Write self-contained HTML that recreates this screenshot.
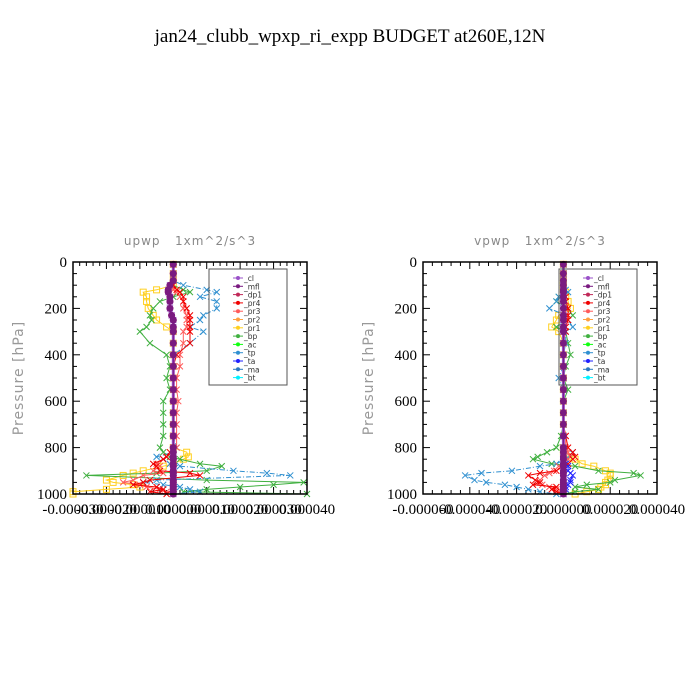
<!DOCTYPE html>
<html><head><meta charset="utf-8"><style>
body{margin:0;background:#fff;width:700px;height:700px;overflow:hidden}
svg{display:block}
</style></head><body>
<svg id="s" width="700" height="700" xmlns="http://www.w3.org/2000/svg">
<text x="350" y="42" text-anchor="middle" font-family="Liberation Serif, serif" font-size="19" fill="#000">jan24_clubb_wpxp_ri_expp  BUDGET at260E,12N</text>
</svg>
<script>
// ---- data (values in units of 1e-5) ----
const legendNames = ["_cl","_mfl","_dp1","_pr4","_pr3","_pr2","_pr1","_bp","_ac","_tp","_ta","_ma","_bt"];
const yTicks = [0,200,400,600,800,1000];
const x1Ticks = [-3,-2,-1,0,1,2,3,4];
const x1Labels = ["-0.000030","-0.000020","-0.000010","0.000000","0.000010","0.000020","0.000030","0.000040"];
const x2Ticks = [-6,-4,-2,0,2,4];
const x2Labels = ["-0.000060","-0.000040","-0.000020","0.000000","0.000020","0.000040"];
const levels = [10,50,80,100,120,130,150,170,200,230,250,280,300,350,400,450,500,550,600,650,700,750,800,820,840,850,870,880,900,910,920,940,950,960,970,980,990,1000];
// plot 1 (upwp)
const u_pr1 = [0,0,0,0,-0.5,-0.9,-0.8,-0.8,-0.75,-0.6,-0.5,-0.2,0,0,0,0,0,0,0,0,0,0,0,0.4,0.45,0.3,0,-0.3,-0.9,-1.2,-1.5,-2.0,-1.8,-1.2,-1.0,-2.0,-3.0,-3.0];
const u_bp  = [0,0,0,0,0.3,0.5,0,-0.4,-0.6,-0.7,-0.65,-0.8,-1.0,-0.7,-0.2,-0.1,-0.2,-0.1,-0.3,-0.3,-0.3,-0.3,-0.4,-0.3,-0.1,0.2,0.8,1.45,1.0,-0.5,-2.6,1.0,3.9,3.0,2.0,1.0,0.3,4.0];
const u_tp  = [0,0,0,0.3,1.0,1.3,0.8,1.3,1.3,0.9,0.8,0.5,0.9,0.5,0,0,0,0,0,0,0,0,0.1,0,-0.5,-0.3,-0.1,0.2,1.8,2.8,3.5,-0.5,-0.9,-0.3,0.2,0.5,0.8,0];
const u_pr4 = [0,0,0,0,0.1,0.2,0.3,0.3,0.4,0.5,0.5,0.5,0.5,0.5,0.1,0,0,0,0,0,0,0,0,-0.1,-0.2,-0.3,-0.6,-0.5,-0.4,0.5,0.8,-0.7,-0.9,-1.2,-0.5,-0.3,-0.7,-0.2];
const u_pr3 = [0,0,0,0,0,0.1,0.2,0.3,0.3,0.4,0.4,0.4,0.3,0.3,0.2,0.2,0.1,0.1,0.15,0.1,0.1,0.1,0.1,0,-0.2,-0.3,-0.5,-0.4,-0.6,-0.3,-0.9,-1.2,-1.5,-1.0,-0.8,-0.4,-0.2,0];
const u_mid = [0,0,0,-0.1,-0.15,-0.15,-0.1,-0.1,-0.1,-0.05,0,0,0,0,0,0,0,0,0,0,0,0,0,0,0,0,0,0,0,0,0,0,0,0,0,0,0,0];
// plot 2 (vpwp)
const v_pr1 = [0,0,0,0,0,0.1,0.1,0.2,0.3,-0.2,-0.3,-0.5,-0.2,0,0,0,0,0,0,0,0,0,0,0,0.2,0.5,0.8,1.3,1.8,2.0,2.0,1.9,1.8,1.8,1.6,1.5,1.0,0.5];
const v_bp  = [0,0,0,0,0,0,-0.2,-0.3,0.2,0.4,0.2,-0.3,0.1,0.2,0.3,0.1,0,0.2,0,0,0,-0.1,-0.3,-0.7,-1.1,-1.3,-0.5,0.5,1.5,3.0,3.3,2.2,2.0,1.0,0.5,1.5,0.5,0];
const v_tp  = [0,0,0,0,0.1,0.2,-0.2,-0.3,-0.6,0.1,0.2,0.4,0.1,0.1,0,0,-0.2,0,0,0,0,0,0,0.4,0.3,0.1,-0.3,-1.0,-2.2,-3.5,-4.2,-3.8,-3.3,-2.5,-2.0,-1.5,-1.0,-0.3];
const v_pr4 = [0,0,0,0,0,0,0.1,0.1,0.2,0.2,0.2,0.1,0.1,0,0,0,0,0,0,0,0,0.1,0.2,0.4,0.5,0.4,0.2,0,-0.3,-1.0,-1.5,-1.2,-1.0,-1.3,-0.3,-0.5,-0.3,0];
const v_pr3 = [0,0,0,0,0,0,0,0,0.1,0.1,0.1,0.1,0,0,0,0,0,0,0,0,0,0.1,0.1,0.2,0.3,0.2,0,-0.2,-0.4,-0.6,-0.8,-1.0,-1.1,-0.9,-0.6,-0.3,-0.2,0];
const v_mid = [0,0,0,0,0,0,0,0,0,0,0,0,0,0,0,0,0,0,0,0,0,0,0,0,0,0,0.1,0.2,0.2,0.3,0.4,0.3,0.3,0.2,0.1,0.1,0,0];
const zeroLine = [0,0,0,0,0,0,0,0,0,0,0,0,0,0,0,0,0,0,0,0,0,0,0,0,0,0,0,0,0,0,0,0,0,0,0,0,0,0];

const colors = {"_cl":"#9a50c8","_mfl":"#7a1a80","_dp1":"#c02858","_pr4":"#f00000","_pr3":"#ff5a5a","_pr2":"#ffa040","_pr1":"#ffd020","_bp":"#40b040","_ac":"#10ff10","_tp":"#3090d0","_ta":"#2020ff","_ma":"#2a78c0","_bt":"#00f0ff"};
const NS="http://www.w3.org/2000/svg";
const svg=document.getElementById('s');
function mk(tag,attrs,parent){const e=document.createElementNS(NS,tag);for(const k in attrs)e.setAttribute(k,attrs[k]);(parent||svg).appendChild(e);return e;}

function drawPanel(p){
  const g=mk('g',{});
  
  
  const L=p.left,R=p.left+234,T=262,B=494;
  const xs=v=>L+(v-p.xmin)/(p.xmax-p.xmin)*(R-L);
  const ys=v=>T+v/1000*(B-T);
  const t=mk('text',{x:(L+R)/2,y:245,'text-anchor':'middle','font-family':'DejaVu Sans, sans-serif','font-size':12,fill:'#888','letter-spacing':'1','xml:space':'preserve',style:'white-space:pre'},g);
  t.textContent=p.title;
  
  
  const yl=mk('text',{x:0,y:0,'text-anchor':'middle','font-family':'DejaVu Sans, sans-serif','font-size':14,fill:'#999','letter-spacing':'1',transform:`translate(${L-50},378) rotate(-90)`},g);
  yl.textContent='Pressure [hPa]';
  
  
  for(let v=0;v<=1000;v+=50){
    const major=v%200===0, len=major?7:4;
    mk('line',{x1:L,x2:L+len,y1:ys(v),y2:ys(v),stroke:'#000','stroke-width':1},g);
    mk('line',{x1:R,x2:R-len,y1:ys(v),y2:ys(v),stroke:'#000','stroke-width':1},g);
  }
  yTicks.forEach(v=>{
    const tl=mk('text',{x:L-6,y:ys(v)+5,'text-anchor':'end','font-family':'Liberation Serif, serif','font-size':15,fill:'#000'},g);
    tl.textContent=v;
    
    
  });
  const step=p.xTicks[1]-p.xTicks[0];
  for(let i=0;i<p.xTicks.length;i++){
    const v=p.xTicks[i];
    mk('line',{x1:xs(v),x2:xs(v),y1:B,y2:B-7,stroke:'#000'},g);
    mk('line',{x1:xs(v),x2:xs(v),y1:T,y2:T+7,stroke:'#000'},g);
    if(i<p.xTicks.length-1){for(let k=1;k<5;k++){const m=v+step*k/5;
      mk('line',{x1:xs(m),x2:xs(m),y1:B,y2:B-4,stroke:'#000'},g);
      mk('line',{x1:xs(m),x2:xs(m),y1:T,y2:T+4,stroke:'#000'},g);}}
    const tl=mk('text',{x:xs(v),y:B+20,'text-anchor':'middle','font-family':'Liberation Serif, serif','font-size':15,fill:'#000'},g);
    tl.textContent=p.xLabels[i];
    
    
  }
  p.series.forEach(s=>{
    const pts=levels.map((lv,i)=>xs(s.vals[i]).toFixed(1)+','+ys(lv).toFixed(1)).join(' ');
    const pl=mk('polyline',{points:pts,fill:'none',stroke:colors[s.name],'stroke-width':s.w||1,'stroke-dasharray':s.dash||''},g);
    
    
    levels.forEach((lv,i)=>{
      const cx=xs(s.vals[i]),cy=ys(lv);
      if(s.mark==='sq') mk('rect',{x:cx-3,y:cy-3,width:6,height:6,fill:'none',stroke:colors[s.name]},g);
      else if(s.mark==='o') mk('circle',{cx:cx,cy:cy,r:3.5,fill:colors[s.name]},g);
      else mk('path',{d:`M${cx-3},${cy-3}L${cx+3},${cy+3}M${cx-3},${cy+3}L${cx+3},${cy-3}`,stroke:colors[s.name]},g);
    });
  });
  mk('rect',{x:L,y:T,width:R-L,height:B-T,fill:'none',stroke:'#000','stroke-width':1.5},g);
  const lg=mk('g',{},g);
  
  
  mk('rect',{x:p.legX,y:269,width:78,height:116,fill:'none',stroke:'#555'},lg);
  legendNames.forEach((n,i)=>{
    const y=278+i*8.3;
    const e=mk('g',{},lg);
    
    
    mk('line',{x1:p.legX+24,x2:p.legX+34,y1:y,y2:y,stroke:colors[n],'stroke-width':1},e);
    mk('circle',{cx:p.legX+29,cy:y,r:2,fill:colors[n]},e);
    const tx=mk('text',{x:p.legX+35,y:y+3,'font-family':'DejaVu Sans, sans-serif','font-size':7.5,fill:'#333'},e);
    tx.textContent=n;
  });
}
drawPanel({name:'upwp',title:'upwp   1xm^2/s^3',left:73,xmin:-3,xmax:4,xTicks:x1Ticks,xLabels:x1Labels,legX:209,
  series:[{name:'_pr1',vals:u_pr1,mark:'sq'},{name:'_bp',vals:u_bp},{name:'_tp',vals:u_tp,dash:'5,2,1,2'},
          {name:'_pr3',vals:u_pr3},{name:'_pr4',vals:u_pr4},{name:'_dp1',vals:u_mid,mark:'o',w:2},{name:'_cl',vals:u_mid,w:3},{name:'_mfl',vals:u_mid,mark:'o',w:1}]});
drawPanel({name:'vpwp',title:'vpwp   1xm^2/s^3',left:423,xmin:-6,xmax:4,xTicks:x2Ticks,xLabels:x2Labels,legX:559,
  series:[{name:'_pr1',vals:v_pr1,mark:'sq'},{name:'_bp',vals:v_bp},{name:'_tp',vals:v_tp,dash:'5,2,1,2'},
          {name:'_pr3',vals:v_pr3},{name:'_pr4',vals:v_pr4},{name:'_ta',vals:v_mid},{name:'_cl',vals:zeroLine,w:3},{name:'_mfl',vals:zeroLine,mark:'o',w:1}]});
</script>
</body></html>
